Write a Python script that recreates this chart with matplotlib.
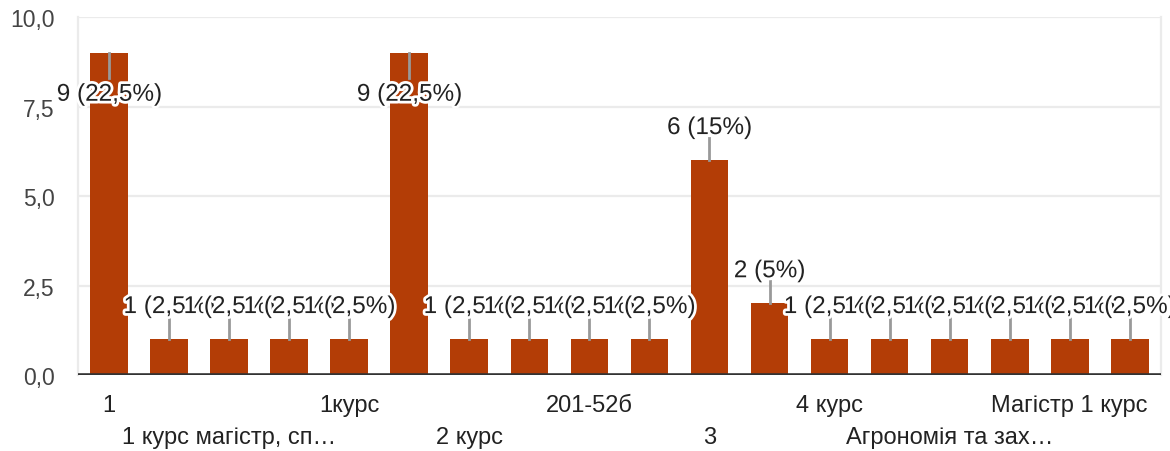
import matplotlib.pyplot as plt
import matplotlib.patheffects as pe
from matplotlib.ticker import FuncFormatter

# counts per answer (40 responses in total)
counts = [9, 1, 1, 1, 1, 9, 1, 1, 1, 1, 6, 2, 1, 1, 1, 1, 1, 1]
pct_labels = ["22,5%", "2,5%", "2,5%", "2,5%", "2,5%", "22,5%", "2,5%", "2,5%", "2,5%",
              "2,5%", "15%", "5%", "2,5%", "2,5%", "2,5%", "2,5%", "2,5%", "2,5%"]
# only every second category name is printed on the axis
shown_pos = [0, 2, 4, 6, 8, 10, 12, 14, 16]
shown_names = ["1", "1 курс магістр, сп…", "1курс", "2 курс", "201-52б", "3",
               "4 курс", "Агрономія та зах…", "Магістр 1 курс"]
yticks = [0, 2.5, 5, 7.5, 10]

plt.rcParams['font.family'] = ['Liberation Sans', 'DejaVu Sans']

fig = plt.figure(figsize=(11.7, 4.52), dpi=100)
ax = fig.add_axes([0.0667, 0.168, 0.926, 0.792])

x = list(range(len(counts)))
ax.bar(x, counts, width=0.63, color='#b33d06', zorder=2)

ax.set_xlim(-0.52, len(counts) - 0.47)
ax.set_ylim(0, 10)
ax.set_yticks(yticks)
ax.yaxis.set_major_formatter(FuncFormatter(lambda v, p: f"{v:.1f}".replace('.', ',')))
ax.tick_params(axis='y', length=0, pad=17, labelsize=16.5, labelcolor='#444444')
ax.set_xticks([])
ax.grid(axis='y', color='#ebebeb', linewidth=1.6, zorder=0)
ax.set_axisbelow(True)
ax.spines['top'].set_visible(False)
for s in ['left', 'right']:
    ax.spines[s].set_color('#ebebeb')
    ax.spines[s].set_linewidth(1.6)
ax.axhline(0, color='#333333', linewidth=2.6, zorder=3)
ax.spines['bottom'].set_visible(False)

stroke = [pe.withStroke(linewidth=4, foreground='white')]
for i, (v, p) in enumerate(zip(counts, pct_labels)):
    txt = f"{v} ({p})"
    if v + 1.3 > 10:
        # no room above: stem and label go down into the bar
        ax.plot([i, i], [v, v - 0.7], color='#999999', linewidth=2, zorder=4)
        ty = v - 1.17
    else:
        ax.plot([i, i], [v, v + 0.63], color='#999999', linewidth=2, zorder=4)
        ty = v + 0.9
    ax.text(i, ty, txt, ha='center', va='center', fontsize=17.5, color='#222222',
            path_effects=stroke, zorder=5)

for k, (pos, name) in enumerate(zip(shown_pos, shown_names)):
    off = -21.5 if k % 2 == 0 else -44.5
    ax.annotate(name, xy=(pos, 0), xycoords=('data', 'axes fraction'),
                xytext=(0, off), textcoords='offset points',
                ha='center', va='center', fontsize=17, color='#222222')

fig.savefig('out.png', dpi=100)
